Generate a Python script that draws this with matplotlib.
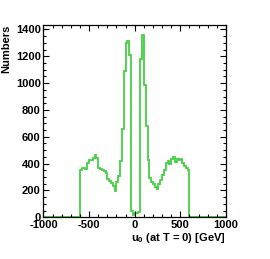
import numpy as np
import matplotlib
matplotlib.use('Agg')
from matplotlib import pyplot as plt
from matplotlib.ticker import MultipleLocator

plt.rcParams['font.family'] = ['Liberation Sans', 'DejaVu Sans']
plt.rcParams['mathtext.fontset'] = 'custom'
plt.rcParams['mathtext.bf'] = 'Liberation Sans:bold'
plt.rcParams['mathtext.rm'] = 'Liberation Sans:bold'
plt.rcParams['axes.unicode_minus'] = False

# histogram: 100 bins of 20 GeV from -1000 to 1000
bin_lo = -1000
bin_hi = 1000
n_bins = 100

counts_left = [350, 371, 365, 362, 405, 428, 425, 440, 462, 445,
               370, 362, 350, 345, 330, 285, 268, 255, 230, 195,
               265, 310, 420, 660, 1090, 1300, 1313, 1209, 45, 15]   # -600 .. -20
counts_right = [35, 35, 40, 1180, 1360, 985, 680, 426, 295, 265,
                251, 228, 208, 251, 277, 314, 352, 402, 420, 400,
                437, 449, 412, 437, 426, 437, 402, 380, 365, 350]   # 0 .. 580
counts = [0] * 20 + counts_left + counts_right + [0] * 20

x_ticks = [-1000, -500, 0, 500, 1000]
y_ticks = [0, 200, 400, 600, 800, 1000, 1200, 1400]

edges = np.linspace(bin_lo, bin_hi, n_bins + 1)

fig = plt.figure(figsize=(2.70, 2.59), dpi=100)
ax = fig.add_axes([0.161, 0.161, 0.676, 0.742])

ax.stairs(counts, edges, color='#44d044', linewidth=1.3)

ax.set_xlim(bin_lo, bin_hi)
ax.set_ylim(0, 1432)
ax.set_xticks(x_ticks)
ax.set_yticks(y_ticks)
ax.xaxis.set_minor_locator(MultipleLocator(100))
ax.yaxis.set_minor_locator(MultipleLocator(50))
ax.tick_params(which='both', direction='in', top=True, right=True,
               labelsize=8, pad=2, width=0.8)
ax.tick_params(which='major', length=4.5)
ax.tick_params(which='minor', length=2.2)
for lab in ax.get_xticklabels() + ax.get_yticklabels():
    lab.set_fontweight('bold')
for s in ax.spines.values():
    s.set_linewidth(0.9)
    s.set_zorder(3)

ax.set_xlabel(r'$\mathbf{u_0}$ (at T = 0) [GeV]', loc='right',
              fontsize=8, fontweight='bold', labelpad=1)
ax.set_ylabel('Numbers', loc='top', fontsize=8, fontweight='bold', labelpad=3)

fig.savefig('out.png', dpi=100)
